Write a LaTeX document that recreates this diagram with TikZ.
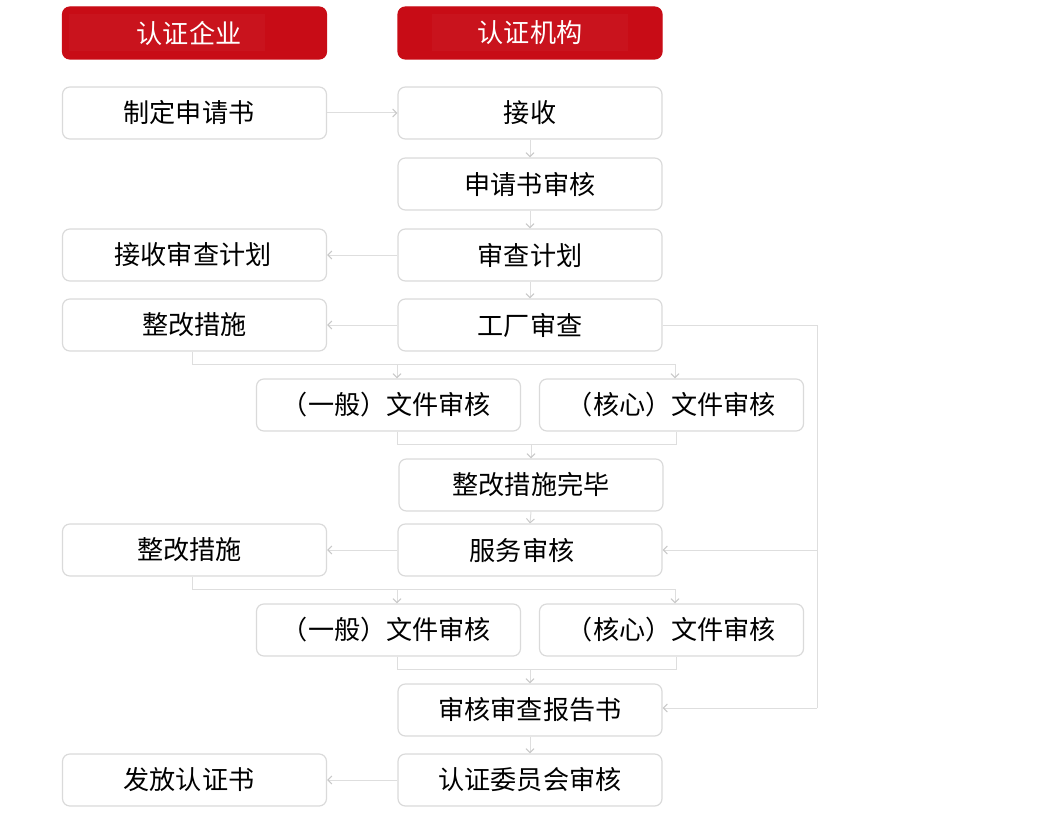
\documentclass[tikz,border=0pt]{standalone}
\usepackage{fontspec}
\setmainfont{Noto Sans CJK SC}
\usetikzlibrary{arrows.meta}
\definecolor{hdred}{RGB}{200,12,22}
\definecolor{bdgray}{RGB}{218,218,218}
\definecolor{lngray}{RGB}{222,222,222}
\definecolor{tipgray}{RGB}{200,200,200}
\begin{document}
\begin{tikzpicture}[x=0.75pt,y=-0.75pt,
  box/.style={draw=bdgray,line width=0.9pt,fill=white,rounded corners=5.5pt,
    minimum width=198pt,minimum height=39pt,inner sep=0pt,
    font=\fontsize{19.6}{21}\selectfont,text=black,anchor=center,
    execute at begin node={\lower1.1pt\hbox\bgroup},
    execute at end node={\egroup}},
  hdr/.style={box,draw=hdred,fill=hdred,text=white},
  ln/.style={draw=lngray,line width=0.75pt},
  arr/.style={ln,-{Straight Barb[length=3pt,width=6pt,color=tipgray]}}]
\useasboundingbox (0,0) rectangle (1060,831);
% headers
\node[hdr] (h1) at (194.5,33) {\hspace*{-8.25pt}认证企业};
\fill[white,opacity=0.03] (69,14) rectangle (265,51);
\node[hdr] (h2) at (530,33) {认证机构};
\fill[white,opacity=0.03] (432,14) rectangle (628,51);
% left column
\node[box] (zd) at (194.5,113) {\hspace*{-8.25pt}制定申请书};
\node[box] (js2) at (194.5,255) {\hspace*{-2.25pt}接收审查计划};
\node[box] (zg1) at (194.5,325) {整改措施};
\node[box] (zg2) at (194.5,550) {\hspace*{-7.5pt}整改措施};
\node[box] (ff) at (194.5,780) {\hspace*{-8.25pt}发放认证书};
% right column
\node[box] (js) at (530,113) {接收};
\node[box] (sq) at (530,184) {申请书审核};
\node[box] (sc) at (530,255) {审查计划};
\node[box] (gc) at (530,325) {工厂审查};
\node[box] (yb1) at (388.5,405) {\hspace*{-3pt}（一般）文件审核};
\node[box] (hx1) at (671.5,405) {（核心）文件审核};
\node[box] (wb) at (531,485) {整改措施完毕};
\node[box] (fw) at (530,550) {\hspace*{-12pt}服务审核};
\node[box] (yb2) at (388.5,630) {\hspace*{-3pt}（一般）文件审核};
\node[box] (hx2) at (671.5,630) {（核心）文件审核};
\node[box] (bg) at (530,710) {审核审查报告书};
\node[box] (wy) at (530,780) {认证委员会审核};
% coordinates
\coordinate (b1) at (397,364);
\coordinate (b2) at (675,364);
\coordinate (c1) at (397,444);
\coordinate (c2) at (676,444);
\coordinate (d1) at (397,589);
\coordinate (d2) at (675,589);
\coordinate (e1) at (397,669);
\coordinate (e2) at (676,669);
\coordinate (r1) at (817,325);
\coordinate (r2) at (817,708);
% connectors
\draw[arr] (zd.east) -- (js.west);
\draw[arr] (js.south) -- (sq.north);
\draw[arr] (sq.south) -- (sc.north);
\draw[arr] (sc.west) -- (js2.east);
\draw[arr] (sc.south) -- (gc.north);
\draw[arr] (gc.west) -- (zg1.east);
\draw[ln] ([xshift=-1.5pt]zg1.south) |- (b2);
\draw[arr] (b1) -- (b1 |- yb1.north);
\draw[arr] (b2) -- (b2 |- hx1.north);
\draw[ln] (b1 |- yb1.south) -- (c1) -- (c2) -- (c2 |- hx1.south);
\draw[arr] (c1 -| wb.north) -- (wb.north);
\draw[arr] (wb.south) -- (fw.north);
\draw[arr] (fw.west) -- (zg2.east);
\draw[ln] ([xshift=-1.5pt]zg2.south) |- (d2);
\draw[arr] (d1) -- (d1 |- yb2.north);
\draw[arr] (d2) -- (d2 |- hx2.north);
\draw[ln] (e1 |- yb2.south) -- (e1) -- (e2) -- (e2 |- hx2.south);
\draw[arr] (e1 -| bg.north) -- (bg.north);
\draw[arr] (bg.south) -- (wy.north);
\draw[arr] (wy.west) -- (ff.east);
\draw[ln] (gc.east |- r1) -- (r1) -- (r2);
\draw[arr] (r2) -- (r2 -| bg.east);
\draw[arr] (r1 |- fw.east) -- (fw.east);
\end{tikzpicture}
\end{document}
